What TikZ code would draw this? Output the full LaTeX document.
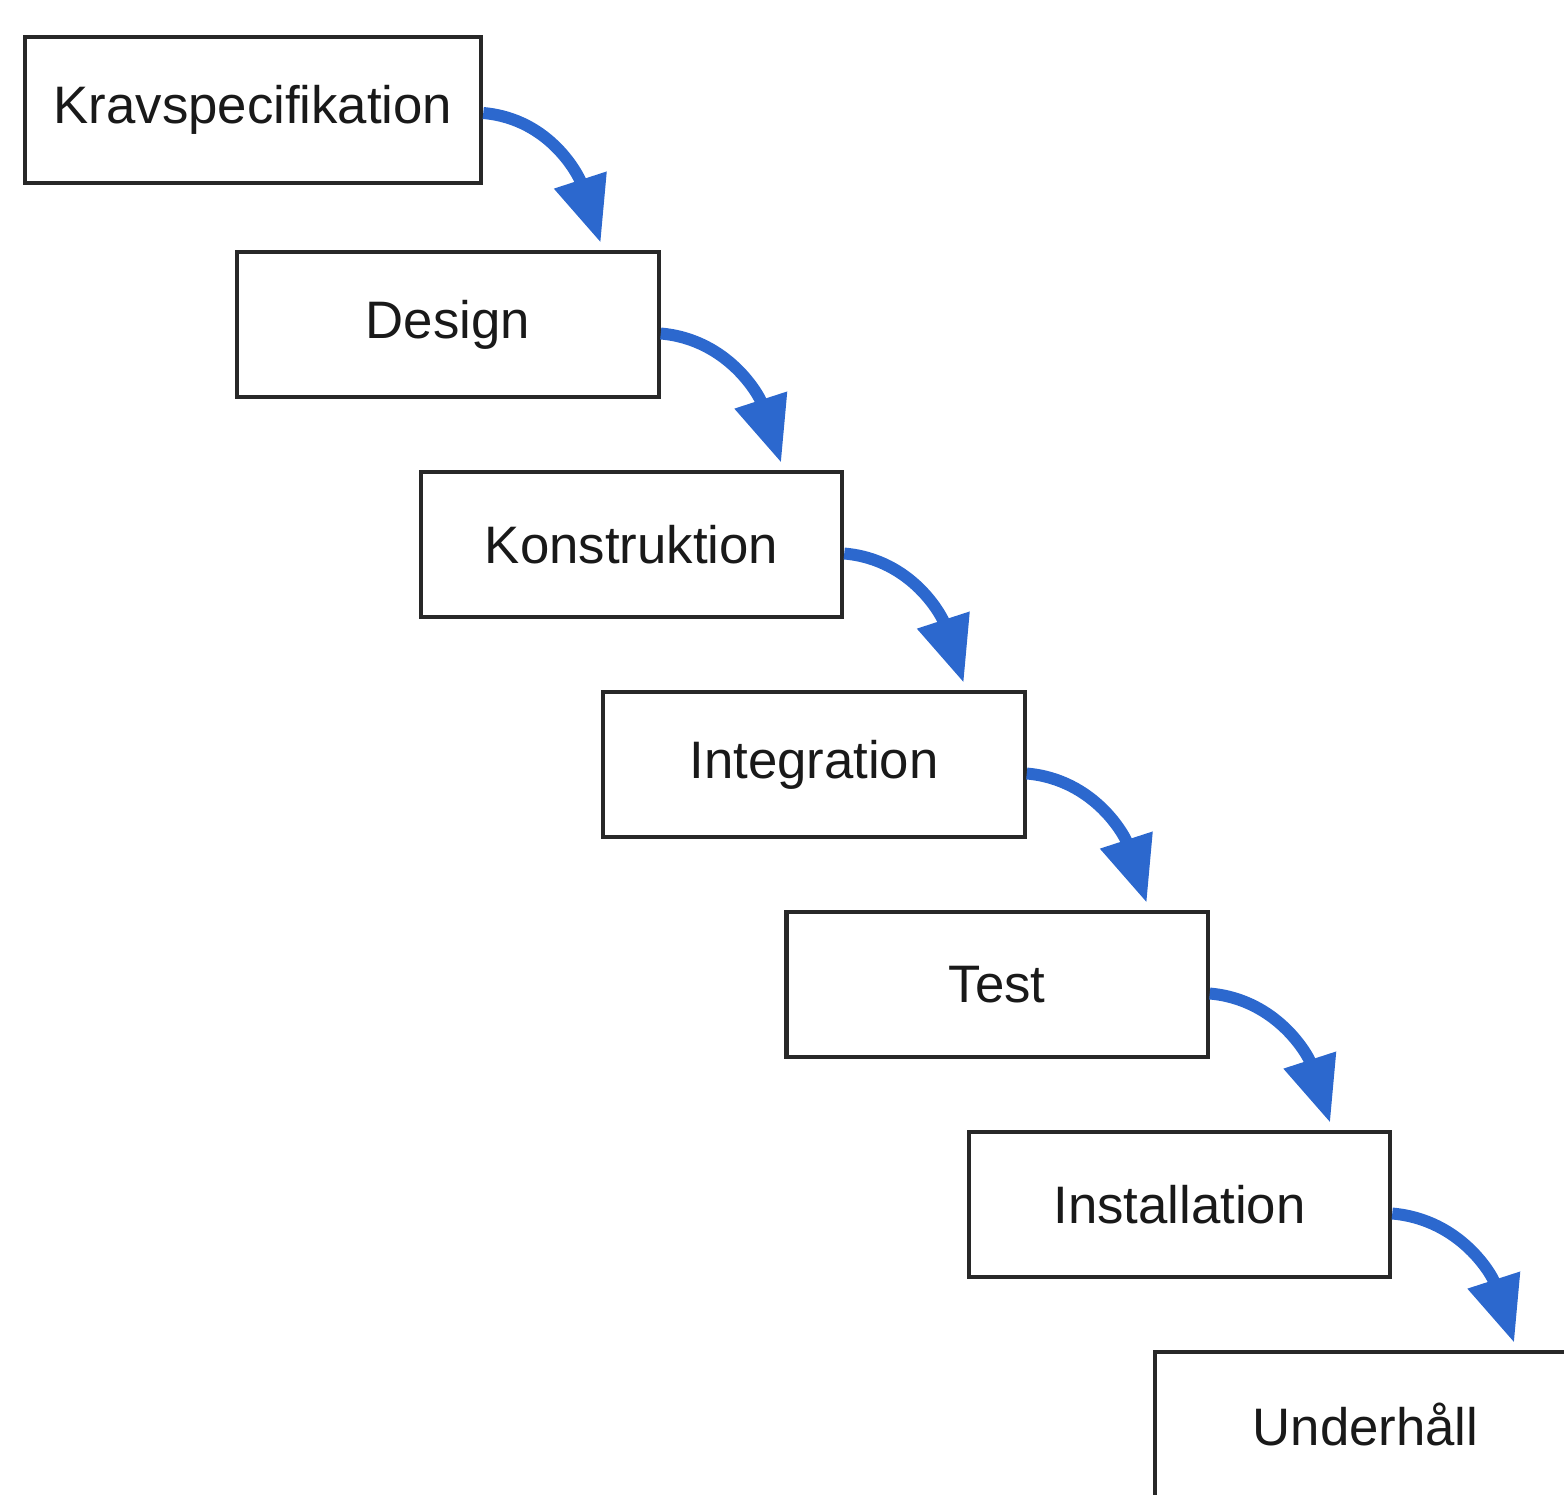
\documentclass[tikz,border=0pt]{standalone}
\usepackage{fontspec}
\setmainfont{Liberation Sans}
\usepackage{tikz}
\usetikzlibrary{arrows.meta}
\definecolor{flowblue}{RGB}{44,104,206}
\definecolor{boxline}{RGB}{40,40,40}

\begin{document}
\begin{tikzpicture}[x=0.01cm, y=0.01cm,
  phase/.style={draw=boxline, line width=1.2pt, minimum width=4.21cm, minimum height=1.45cm,
    inner sep=0pt, font=\fontsize{15}{18}\selectfont, text=black!90},
  flow/.style={draw=flowblue, line width=3.4pt,
    -{Triangle[width=0.52cm,length=0.66cm]}, shorten >=0pt}]
\useasboundingbox (0,0) rectangle (1564,-1494);
%put boxes
\node[phase, minimum width=4.56cm, minimum height=1.46cm] (krav) at (253,-110) {Kravspecifikation};
\node[phase] (design) at (448,-324.5) {Design};
\node[phase] (konstr) at (631.5,-544.5) {Konstruktion};
\node[phase] (integr) at (814,-764.5) {Integration};
\node[phase] (test) at (997,-984.5) {Test};
\node[phase] (install) at (1179.5,-1204.5) {Installation};
\node[phase] (underh) at (1365.5,-1424.5) {Underhåll};

%arrows
\draw[flow] ([yshift=-0.03cm]krav.east) to[out=-5,in=108] ([xshift=-0.6cm,yshift=0.07cm]design.north east);
\draw[flow] ([yshift=-0.09cm]design.east) to[out=-5,in=108] ([xshift=-0.63cm,yshift=0.07cm]konstr.north east);
\draw[flow] ([yshift=-0.09cm]konstr.east) to[out=-5,in=108] ([xshift=-0.63cm,yshift=0.07cm]integr.north east);
\draw[flow] ([yshift=-0.09cm]integr.east) to[out=-5,in=108] ([xshift=-0.63cm,yshift=0.07cm]test.north east);
\draw[flow] ([yshift=-0.09cm]test.east) to[out=-5,in=108] ([xshift=-0.62cm,yshift=0.07cm]install.north east);
\draw[flow] ([yshift=-0.09cm]install.east) to[out=-5,in=108] ([xshift=-0.64cm,yshift=0.07cm]underh.north east);
\end{tikzpicture}
\end{document}
